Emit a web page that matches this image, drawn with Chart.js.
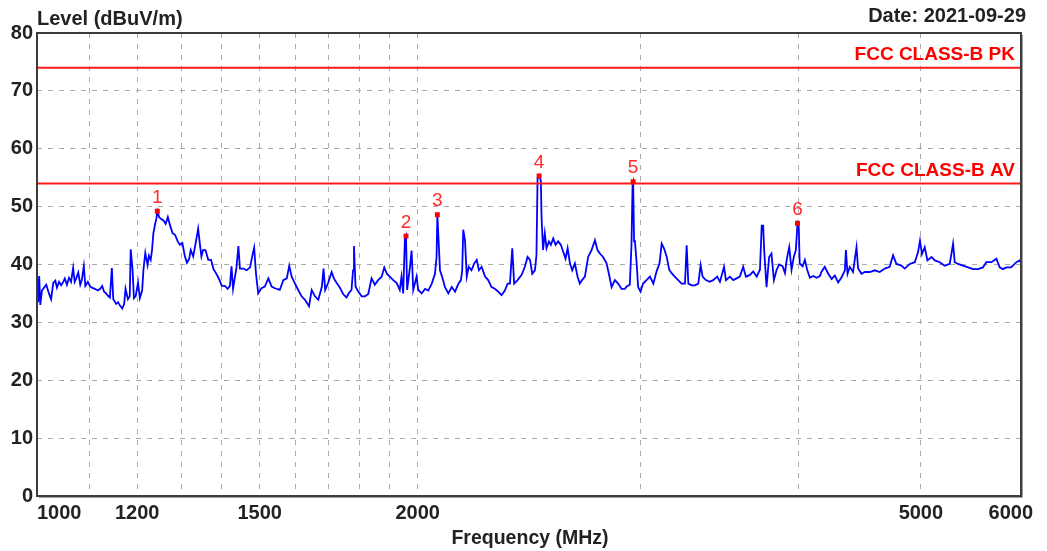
<!DOCTYPE html>
<html>
<head>
<meta charset="utf-8">
<script src="https://cdn.jsdelivr.net/npm/chart.js@4.4.1/dist/chart.umd.min.js"></script>
<style>
  html, body { margin: 0; padding: 0; background: #fff; }
  #wrap { width: 1047px; height: 551px; position: relative; }
</style>
</head>
<body>
<div id="wrap"><canvas id="chart"></canvas></div>
<script>
// scan trace (MHz / dBuV/m)
const freqs = [
  1000, 1002, 1004, 1006, 1009, 1013, 1017, 1022, 1026, 1030, 1034, 1037, 1041, 1045, 1049, 1052,
  1056, 1060, 1064, 1068, 1071, 1074, 1078, 1082, 1085, 1089, 1092, 1097, 1101, 1105, 1111, 1117,
  1122, 1126, 1130, 1134, 1138, 1142, 1146, 1149, 1155, 1159, 1163, 1168, 1172, 1175, 1180, 1184,
  1186, 1190, 1193, 1197, 1202, 1206, 1211, 1214, 1218, 1223, 1226, 1230, 1233, 1236, 1240, 1243,
  1245, 1249, 1253, 1259, 1264, 1269, 1274, 1280, 1286, 1292, 1297, 1303, 1309, 1314, 1319, 1323,
  1329, 1335, 1341, 1345, 1349, 1353, 1359, 1366, 1373, 1379, 1387, 1393, 1400, 1408, 1415, 1421,
  1425, 1429, 1438, 1443, 1447, 1456, 1465, 1474, 1481, 1485, 1490, 1496, 1505, 1514, 1524, 1533,
  1542, 1556, 1566, 1576, 1583, 1590, 1599, 1609, 1619, 1629, 1641, 1649, 1659, 1669, 1680, 1685,
  1690, 1699, 1710, 1717, 1726, 1736, 1746, 1757, 1765, 1773, 1778, 1781, 1786, 1794, 1806, 1817,
  1828, 1839, 1850, 1861, 1873, 1882, 1891, 1901, 1913, 1925, 1936, 1942, 1948, 1954, 1958, 1962,
  1972, 1978, 1984, 1996, 2002, 2015, 2027, 2039, 2052, 2064, 2070, 2073, 2079, 2083, 2091, 2102,
  2115, 2128, 2141, 2154, 2164, 2169, 2173, 2180, 2187, 2195, 2206, 2217, 2227, 2236, 2247, 2261,
  2274, 2288, 2302, 2316, 2330, 2344, 2356, 2366, 2376, 2384, 2399, 2417, 2431, 2443, 2454, 2464,
  2476, 2483, 2488, 2495, 2503, 2506, 2513, 2521, 2529, 2540, 2549, 2560, 2571, 2583, 2596, 2607,
  2618, 2628, 2639, 2650, 2663, 2676, 2687, 2698, 2712, 2728, 2745, 2762, 2775, 2787, 2803, 2821,
  2833, 2847, 2864, 2881, 2899, 2917, 2926, 2943, 2952, 2958, 2961, 2966, 2970, 2979, 2988, 3001,
  3015, 3034, 3053, 3072, 3091, 3106, 3119, 3132, 3147, 3162, 3176, 3194, 3214, 3234, 3254, 3264,
  3274, 3294, 3314, 3334, 3348, 3360, 3380, 3404, 3425, 3451, 3468, 3494, 3506, 3532, 3553, 3575,
  3596, 3618, 3636, 3663, 3685, 3708, 3730, 3742, 3752, 3759, 3775, 3793, 3809, 3826, 3845, 3863,
  3887, 3904, 3916, 3934, 3951, 3968, 3982, 3994, 4003, 4010, 4031, 4048, 4065, 4085, 4110, 4135,
  4160, 4172, 4197, 4224, 4250, 4275, 4301, 4328, 4354, 4362, 4375, 4393, 4419, 4447, 4460, 4488,
  4515, 4556, 4597, 4639, 4682, 4724, 4753, 4782, 4826, 4855, 4900, 4945, 4974, 4992, 5010, 5035,
  5060, 5098, 5128, 5175, 5222, 5270, 5302, 5318, 5350, 5398, 5448, 5498, 5548, 5598, 5633, 5685,
  5737, 5772, 5806, 5843, 5892, 5950, 5985, 6000
];
const levels = [
  38.5, 33.5, 38.0, 33.0, 35.5, 36.0, 36.5, 35.0, 34.0, 36.8, 37.2, 36.0, 37.0, 36.4, 37.0, 37.6,
  36.5, 37.7, 37.0, 39.4, 37.0, 37.6, 38.6, 36.5, 37.3, 39.7, 36.3, 37.0, 36.3, 36.0, 35.8, 35.5,
  35.8, 36.3, 35.3, 35.0, 34.6, 34.3, 39.4, 34.0, 33.2, 33.5, 32.9, 32.4, 33.2, 35.8, 34.0, 34.5,
  42.6, 39.2, 34.2, 34.6, 36.9, 34.2, 35.5, 39.2, 42.0, 39.9, 41.5, 40.8, 42.5, 45.4, 47.0, 48.0,
  49.2, 48.2, 47.9, 47.6, 47.0, 48.2, 46.8, 45.4, 45.1, 44.0, 43.4, 43.7, 41.4, 40.3, 40.9, 42.5,
  41.4, 43.7, 46.2, 43.7, 41.4, 42.5, 42.5, 40.8, 40.8, 39.2, 38.3, 37.5, 36.3, 36.3, 35.8, 36.3,
  39.7, 35.8, 39.5, 43.2, 39.3, 39.3, 39.0, 39.5, 41.8, 42.9, 38.4, 35.0, 35.9, 36.2, 37.6, 36.2,
  35.9, 35.6, 37.3, 37.6, 39.8, 37.9, 36.8, 35.6, 34.5, 33.9, 32.8, 35.6, 34.5, 33.9, 36.2, 39.3,
  35.6, 36.8, 38.7, 37.6, 36.8, 36.0, 34.9, 34.3, 35.1, 35.6, 39.0, 43.2, 36.2, 35.4, 34.5, 34.5,
  34.9, 37.6, 36.5, 37.3, 37.9, 39.5, 38.4, 37.9, 37.3, 36.8, 35.6, 37.9, 35.0, 44.4, 44.9, 35.6,
  39.5, 42.4, 35.6, 37.9, 35.6, 35.0, 35.8, 35.5, 36.7, 38.4, 41.3, 48.6, 42.9, 39.0, 37.9, 36.1,
  35.0, 36.1, 35.3, 36.7, 37.3, 39.0, 46.0, 44.2, 37.9, 39.6, 39.0, 40.2, 40.8, 39.0, 39.6, 37.9,
  37.3, 36.1, 35.8, 35.3, 34.7, 35.5, 36.7, 36.7, 42.8, 36.7, 37.3, 38.2, 39.6, 41.3, 40.8, 38.4,
  39.0, 41.6, 55.0, 55.3, 54.5, 48.3, 42.5, 45.4, 42.8, 44.0, 43.4, 44.5, 43.4, 44.0, 43.4, 42.2,
  41.0, 42.8, 40.2, 39.0, 40.2, 37.9, 36.7, 37.3, 37.9, 41.3, 42.5, 44.2, 42.5, 41.9, 41.3, 40.2,
  38.4, 36.1, 37.3, 36.7, 35.8, 35.8, 36.2, 36.5, 43.3, 54.0, 54.3, 44.0, 44.2, 40.7, 36.1, 35.3,
  36.7, 37.3, 37.9, 36.7, 38.9, 40.1, 43.6, 42.8, 41.4, 39.1, 38.5, 37.9, 37.3, 36.7, 36.7, 43.3,
  36.7, 36.4, 36.4, 36.7, 39.9, 37.9, 37.3, 37.0, 37.3, 37.9, 37.0, 39.6, 37.3, 37.9, 37.3, 37.6,
  37.9, 39.6, 37.9, 38.2, 38.8, 37.9, 39.1, 46.7, 46.7, 42.4, 36.1, 41.3, 41.9, 37.3, 39.1, 40.0,
  39.7, 38.5, 40.8, 43.0, 39.1, 41.4, 42.5, 47.1, 46.5, 40.2, 39.7, 40.8, 39.1, 37.7, 38.0, 37.7,
  38.0, 38.7, 39.6, 38.4, 37.5, 38.1, 36.9, 37.8, 39.0, 42.5, 38.4, 39.6, 38.7, 43.0, 39.3, 38.4,
  38.7, 38.7, 39.0, 38.7, 39.3, 39.6, 41.6, 40.1, 39.8, 39.3, 40.1, 40.4, 42.1, 44.1, 41.8, 43.0,
  40.7, 41.3, 40.7, 40.4, 39.8, 40.1, 43.6, 40.4, 40.1, 39.8, 39.5, 39.2, 39.2, 39.5, 40.4, 40.4,
  41.0, 39.5, 39.2, 39.5, 39.5, 40.4, 40.7, 40.3
];

// marked peaks
const markerFreqs = [1245, 1958, 2073, 2495, 2961, 3994];
const markerLevels = [49.2, 44.9, 48.6, 55.3, 54.3, 47.1];
const markerNames = ['1', '2', '3', '4', '5', '6'];

// limit lines
const limitNames = ['FCC CLASS-B PK', 'FCC CLASS-B AV'];
const limitLevels = [74, 54];
const freqRange = [1000, 6000];

// axes
const yMin = 0, yMax = 80, yStep = 10;
const xGridFreqs = [1000, 1100, 1200, 1300, 1400, 1500, 1600, 1700, 1800, 1900, 2000, 3000, 4000, 5000, 6000];
const xLabelFreqs = [1000, 1200, 1500, 2000, 5000, 6000];

const yTitle = 'Level (dBuV/m)';
const xTitle = 'Frequency (MHz)';
const dateText = 'Date: 2021-09-29';

const FONT = '"Liberation Sans", Arial, sans-serif';

const decor = {
  id: 'decor',
  afterDraw(chart) {
    const ctx = chart.ctx;
    const a = chart.chartArea;
    const xs = chart.scales.x;
    const ys = chart.scales.y;
    ctx.save();

    // frame
    ctx.strokeStyle = '#3c3c3c';
    ctx.lineWidth = 2;
    ctx.strokeRect(a.left, a.top, a.right - a.left, a.bottom - a.top);
    ctx.strokeStyle = '#a0a0a0';
    ctx.lineWidth = 1;
    ctx.beginPath();
    ctx.moveTo(a.right + 1.5, a.top + 2);
    ctx.lineTo(a.right + 1.5, a.bottom + 1.5);
    ctx.lineTo(a.left + 2, a.bottom + 1.5);
    ctx.stroke();

    // limit names
    ctx.fillStyle = '#ff0000';
    ctx.font = 'bold 19px ' + FONT;
    ctx.textAlign = 'right';
    ctx.textBaseline = 'bottom';
    limitNames.forEach((n, i) => {
      ctx.fillText(n, a.right - 6, ys.getPixelForValue(limitLevels[i]) - 3);
    });

    // marker numbers
    const meta = chart.getDatasetMeta(0);
    ctx.font = '19px ' + FONT;
    ctx.fillStyle = '#ff2a2a';
    ctx.textAlign = 'center';
    ctx.textBaseline = 'bottom';
    meta.data.forEach((pt, i) => {
      ctx.fillText(markerNames[i], pt.x, pt.y - 4);
    });

    // x tick labels
    ctx.font = 'bold 20px ' + FONT;
    ctx.fillStyle = '#222';
    ctx.textBaseline = 'middle';
    ctx.textAlign = 'left';
    xLabelFreqs.forEach(f => {
      const t = String(f);
      const w = ctx.measureText(t).width;
      let x = xs.getPixelForValue(f) - w / 2;
      x = Math.max(x, a.left);
      x = Math.min(x, chart.width - 14 - w);
      ctx.fillText(t, x, a.bottom + 17);
    });

    // titles
    ctx.font = 'bold 20px ' + FONT;
    ctx.textAlign = 'left';
    ctx.textBaseline = 'middle';
    ctx.fillText(yTitle, a.left, 19);
    ctx.textAlign = 'right';
    ctx.fillText(dateText, chart.width - 21, 16);
    ctx.font = 'bold 19.5px ' + FONT;
    ctx.textAlign = 'center';
    ctx.fillText(xTitle, (a.left + a.right) / 2 + 1, 539);

    ctx.restore();
  }
};

const limitSets = limitLevels.map(v => ({
  data: freqRange.map(f => ({ x: f, y: v })),
  borderColor: '#ff1a1a',
  borderWidth: 2,
  pointRadius: 0,
  order: 1
}));

new Chart(document.getElementById('chart'), {
  type: 'line',
  data: {
    datasets: [
      {
        data: markerFreqs.map((f, i) => ({ x: f, y: markerLevels[i] })),
        showLine: false,
        pointRadius: 3.5,
        pointStyle: 'rect',
        backgroundColor: '#ff0000',
        borderColor: '#ff0000',
        borderWidth: 0,
        order: 0
      },
      ...limitSets,
      {
        data: freqs.map((f, i) => ({ x: f, y: levels[i] })),
        borderColor: '#0000ff',
        borderWidth: 1.8,
        pointRadius: 0,
        tension: 0,
        order: 2
      }
    ]
  },
  options: {
    responsive: true,
    maintainAspectRatio: false,
    devicePixelRatio: 1,
    animation: false,
    layout: { padding: { top: 33, right: 26, left: 0, bottom: 0 } },
    plugins: { legend: { display: false }, tooltip: { enabled: false } },
    scales: {
      x: {
        type: 'logarithmic',
        min: freqRange[0],
        max: freqRange[1],
        afterBuildTicks: s => { s.ticks = xGridFreqs.map(v => ({ value: v })); },
        afterFit: s => { s.height = 55; },
        ticks: { display: false },
        grid: { color: '#aaaaaa', lineWidth: 1, drawTicks: false },
        border: { display: false, dash: [5, 6] }
      },
      y: {
        min: yMin,
        max: yMax,
        afterFit: s => { s.width = 37; },
        ticks: {
          stepSize: yStep,
          padding: 4,
          color: '#222',
          font: { family: FONT, size: 20, weight: 'bold' }
        },
        grid: { color: '#aaaaaa', lineWidth: 1, drawTicks: false },
        border: { display: false, dash: [5, 6] }
      }
    }
  },
  plugins: [decor]
});
</script>
</body>
</html>
